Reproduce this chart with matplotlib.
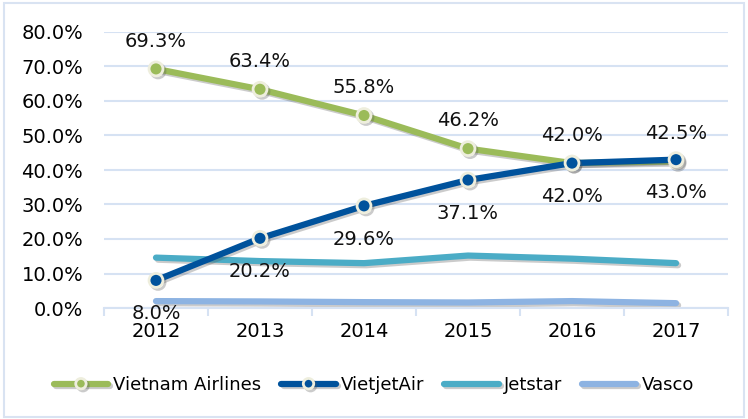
import numpy as np
import matplotlib
matplotlib.use("Agg")
import matplotlib.pyplot as plt
import matplotlib.patheffects as pe
from matplotlib.patches import Rectangle

# ==========================================================
# Data
# ==========================================================

years = ["2012", "2013", "2014", "2015", "2016", "2017"]

vietnam_airlines = [69.3, 63.4, 55.8, 46.2, 42.0, 42.5]
vietjet_air = [8.0, 20.2, 29.6, 37.1, 42.0, 43.0]
jetstar = [14.6, 13.6, 13.0, 15.2, 14.3, 13.0]
vasco = [2.0, 1.9, 1.7, 1.6, 2.0, 1.4]

y_ticks = [0, 10, 20, 30, 40, 50, 60, 70, 80]

# ==========================================================
# Style
# ==========================================================

GREEN = "#9bbb59"
DARK_BLUE = "#00529c"
TEAL = "#4bacc6"
LIGHT_BLUE = "#8db3e2"
GRID = "#d6e2f3"
EDGE = "#eeeedd"

plt.rcParams["font.family"] = ["DejaVu Sans"]

fig = plt.figure(figsize=(7.48, 4.19), dpi=100)
ax = fig.add_axes([104 / 748, (419 - 308) / 419, 624 / 748, 276 / 419])

x = np.arange(len(years))

shadow = [pe.SimpleLineShadow(offset=(1.5, -1.5), alpha=0.3, shadow_color="#555555"),
          pe.Normal()]

ax.plot(x, vasco, color=LIGHT_BLUE, lw=4.5, solid_capstyle="round",
        path_effects=shadow, label="Vasco", zorder=2, clip_on=False)
ax.plot(x, jetstar, color=TEAL, lw=4.5, solid_capstyle="round",
        path_effects=shadow, label="Jetstar", zorder=3, clip_on=False)
ax.plot(x, vietnam_airlines, color=GREEN, lw=4.5, solid_capstyle="round",
        marker="o", markersize=10, markerfacecolor=GREEN,
        markeredgecolor=EDGE, markeredgewidth=2,
        path_effects=shadow, label="Vietnam Airlines", zorder=4, clip_on=False)
ax.plot(x, vietjet_air, color=DARK_BLUE, lw=4.5, solid_capstyle="round",
        marker="o", markersize=10, markerfacecolor=DARK_BLUE,
        markeredgecolor=EDGE, markeredgewidth=2,
        path_effects=shadow, label="VietjetAir", zorder=5, clip_on=False)

# data labels
for xi, v in zip(x, vietnam_airlines):
    ax.annotate(f"{v:.1f}%", (xi, v), xytext=(0, 20), textcoords="offset points",
                ha="center", va="center", fontsize=14, color="#111111")

for xi, v in zip(x, vietjet_air):
    ax.annotate(f"{v:.1f}%", (xi, v), xytext=(0, -24), textcoords="offset points",
                ha="center", va="center", fontsize=14, color="#111111")

# axes
ax.set_xlim(-0.5, len(years) - 0.5)
ax.set_ylim(0, 80)
ax.set_yticks(y_ticks)
ax.set_yticklabels([f"{t:.1f}%" for t in y_ticks])
ax.set_xticks(x)
ax.set_xticklabels(years)
ax.set_xticks(np.arange(-0.5, len(years)), minor=True)
ax.tick_params(axis="x", which="major", length=0, pad=10, labelsize=14)
ax.tick_params(axis="x", which="minor", length=6, color=GRID, width=1.5, direction="out")
ax.tick_params(axis="y", length=0, pad=15, labelsize=14)

ax.grid(axis="y", color=GRID, lw=1.5)
ax.set_axisbelow(True)

for side in ["top", "right", "left"]:
    ax.spines[side].set_visible(False)
ax.spines["bottom"].set_color(GRID)
ax.spines["bottom"].set_linewidth(1.5)

handles, labels = ax.get_legend_handles_labels()
order = [2, 3, 1, 0]
fig.legend([handles[i] for i in order], [labels[i] for i in order],
           loc="center", bbox_to_anchor=(0.5, (419 - 385) / 419),
           ncol=4, frameon=False, fontsize=13, handlelength=3.0,
           markerscale=0.75, columnspacing=1.1, handletextpad=0.3)

# chart border
fig.patches.append(Rectangle((4 / 748, 2 / 419), 740 / 748, 414 / 419,
                             transform=fig.transFigure, fill=False,
                             edgecolor="#d9e3f2", lw=1.5))

fig.savefig("out.png", dpi=100)
plt.close(fig)
